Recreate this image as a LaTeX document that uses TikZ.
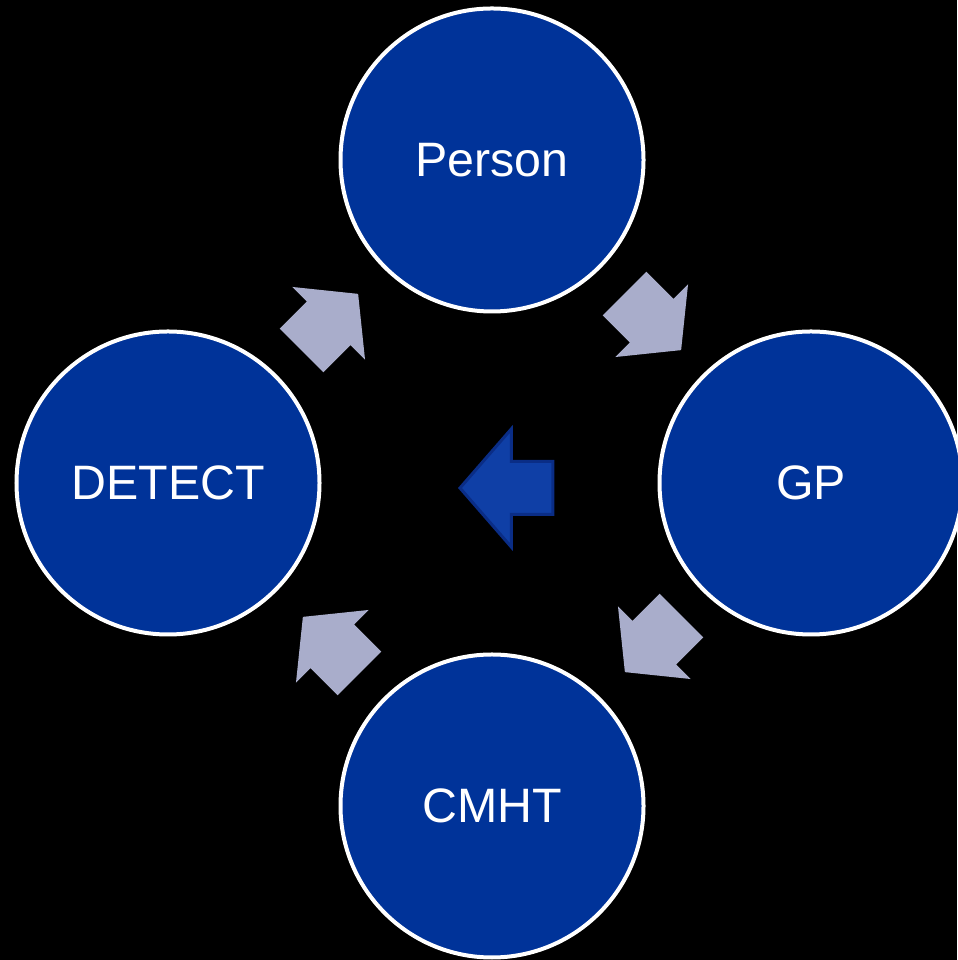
\documentclass[tikz,border=0pt]{standalone}
\usepackage{fontspec}
\setmainfont{Liberation Sans}
\usepackage{tikz}
\usetikzlibrary{
	arrows.meta,
	positioning,
	shapes.arrows
}
\usepackage{xcolor}
\definecolor{stageblue}{HTML}{003399}
\definecolor{flowgrey}{HTML}{A9ADCB}
\definecolor{backblue}{HTML}{0F3FA6}
\definecolor{backedge}{HTML}{0A2D86}

\begin{document}
\begin{tikzpicture}[
		x=0.2mm,
		y=0.2mm,
		stage/.style={
			circle,
			draw=white,
			line width=0.8mm,
			fill=stageblue,
			minimum size=60.6mm,
			inner sep=0pt,
			text=white,
			font=\fontsize{27.5}{31}\selectfont
		},
		flow/.style={
			single arrow,
			fill=flowgrey,
			draw=none,
			minimum height=16mm,
			inner xsep=0pt,
			inner ysep=6.1mm,
			single arrow head extend=4.1mm,
			single arrow tip angle=102
		},
		back/.style={
			single arrow,
			fill=backblue,
			draw=backedge,
			line width=0.6mm,
			minimum height=18.6mm,
			inner xsep=0pt,
			inner ysep=5mm,
			single arrow head extend=6.5mm,
			single arrow tip angle=98
		}
		]
		
		% Background
		\fill[black] (0,0) rectangle (957,960);
		\useasboundingbox (0,0) rectangle (957,960);
		
		% Stages
		\node[stage] (person) at (492,800) {Person};
		\node[stage] (gp) at (811,477) {GP};
		\node[stage] (cmht) at (492,154) {CMHT};
		\node[stage] (detect) at (168,477) {DETECT};
		
		% Flow between stages
		\node[flow, rotate=45] (detecttoperson) at (321,629) {};
		\node[flow, rotate=-45] (persontogp) at (644,647) {};
		\node[flow, rotate=-135] (gptocmht) at (662,325) {};
		\node[flow, rotate=135] (cmhttodetect) at (340,306) {};
		
		% Centre
		\node[back, rotate=180] (loopback) at (518,472) {};
		
	\end{tikzpicture}
\end{document}
